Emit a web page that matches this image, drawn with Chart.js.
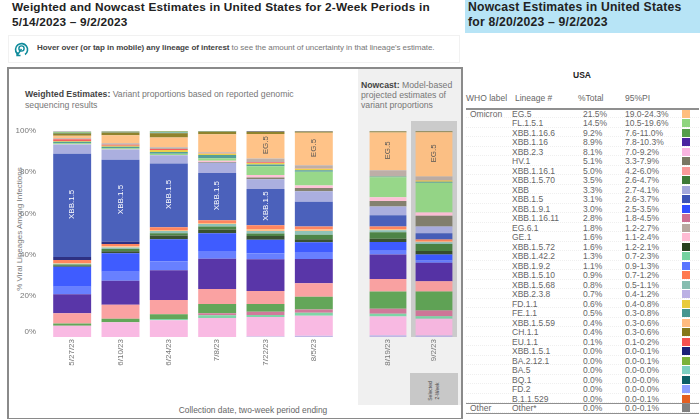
<!DOCTYPE html>
<html>
<head>
<meta charset="utf-8">
<script src="https://cdn.jsdelivr.net/npm/chart.js@4"></script>
<style>
  html, body { margin:0; padding:0; background:#fff; }
  body { width:700px; height:420px; position:relative; overflow:hidden; font-family:"Liberation Sans",Arial,sans-serif; color:#666; }
  .abs { position:absolute; }
  canvas { position:absolute; }
  #title { left:12px; top:0; width:440px; font-weight:bold; font-size:11.8px; line-height:15px; color:#222; letter-spacing:.2px; }
  #hover { left:8px; top:35px; width:452px; height:28px; border:1px solid #f1f1f1; box-sizing:border-box; }
  #hoverText { left:37px; top:43px; font-size:8px; line-height:10px; white-space:nowrap; color:#777; letter-spacing:-.06px; }
  #hoverText b { color:#444; }
  #frame { left:7px; top:67px; width:456px; height:352px; box-sizing:border-box; border:2px solid #8a8a8a; border-bottom-width:1.5px; }
  #panel { left:358px; top:69px; width:103px; height:336px; background:#f0f0f0; }
  #selCol { left:411px; top:121px; width:46px; height:216px; background:#cbcbcb; }
  #selBox { left:410px; top:373px; width:48px; height:32px; background:#c8c8c8; }
  #selText { left:418px; top:384px; width:32px; font-size:5px; line-height:7px; text-align:center; color:#444; transform:rotate(-90deg); }
  #weighted { left:25px; top:89px; width:300px; font-size:8.7px; line-height:10.5px; color:#777; }
  #weighted b, #nowcast b { color:#444; }
  #nowcast { left:361px; top:80px; width:98px; font-size:8.7px; line-height:10px; color:#777; }
  #yTitle { left:-60px; top:224px; width:160px; text-align:center; font-size:8px; line-height:10px; color:#777; transform:rotate(-90deg); white-space:nowrap; }
  #xTitle { left:100px; top:405px; width:306px; text-align:center; font-size:8.4px; line-height:10px; color:#666; }
  #band { left:465px; top:0; width:235px; height:33px; background:#b7e4f6; }
  #bandText { left:468px; top:0; font-weight:bold; font-size:12.2px; line-height:15px; color:#222; letter-spacing:.2px; white-space:nowrap; }
  #usa { left:560px; top:70px; width:44px; text-align:center; font-weight:bold; font-size:8.5px; line-height:10px; color:#222; }
  .col { position:absolute; font-size:8.5px; line-height:10px; white-space:nowrap; color:#666; }
  #headRule, #otherRule, #endRule { position:absolute; left:466px; width:233px; background:#8f8f8f; }
  #headRule { top:108px; height:2px; }
  #otherRule { top:403px; height:1px; }
  #endRule { top:413px; height:1px; }
  .row { position:absolute; left:466px; width:233px; height:9.5px; border-bottom:1px dotted #efefef; box-sizing:border-box; }
  .swatch { position:absolute; left:682px; width:8px; height:8px; }
</style>
</head>
<body>
<div id="title" class="abs">Weighted and Nowcast Estimates in United States for 2-Week Periods in 5/14/2023 – 9/2/2023</div>
<div id="hover" class="abs"></div>
<svg class="abs" style="left:14px;top:42px" width="15" height="15" viewBox="0 0 15 15">
  <path d="M3 11.5A6 6 0 1 1 11 12.5" fill="none" stroke="#0f8b9b" stroke-width="1.6"/>
  <circle cx="7.5" cy="6.5" r="2.6" fill="none" stroke="#0f8b9b" stroke-width="1.4"/>
  <path d="M7.5 7L3 13.5M3 10v3.5h3.5" fill="none" stroke="#0f8b9b" stroke-width="1.4"/>
</svg>
<div id="hoverText" class="abs"><b>Hover over (or tap in mobile) any lineage of interest</b> to see the amount of uncertainty in that lineage's estimate.</div>

<div id="frame" class="abs"></div>
<div id="panel" class="abs"></div>
<div id="selCol" class="abs"></div>
<div id="selBox" class="abs"></div>
<div id="selText" class="abs">Selected<br>2-Week</div>
<div id="weighted" class="abs"><b>Weighted Estimates:</b> Variant proportions based on reported genomic sequencing results</div>
<div id="nowcast" class="abs"><b>Nowcast:</b> Model-based projected estimates of variant proportions</div>
<div id="yTitle" class="abs">% Viral Lineages Among Infections</div>
<div id="xTitle" class="abs">Collection date, two-week period ending</div>

<canvas id="weightedChart" width="326" height="260" style="left:14px;top:125px"></canvas>
<canvas id="nowcastChart" width="92" height="260" style="left:364.5px;top:125px"></canvas>

<div id="band" class="abs"></div>
<div id="bandText" class="abs">Nowcast Estimates in United States<br>for 8/20/2023 – 9/2/2023</div>
<div id="usa" class="abs">USA</div>
<div class="col" style="left:466px;top:93px">WHO label</div>
<div class="col" style="left:515px;top:93px">Lineage #</div>
<div class="col" style="left:578px;top:93px">%Total</div>
<div class="col" style="left:625px;top:93px">95%PI</div>
<div id="headRule"></div>
<div id="rows"></div>
<div id="otherRule"></div>
<div id="endRule"></div>

<script>
const dates = ["5/27/23","6/10/23","6/24/23","7/8/23","7/22/23","8/5/23","8/19/23","9/2/23"];

// shares per two-week period
const xbb238  = [0,0,0,0,.3,.6,.8,.7];
const xbb23   = [5.5,7.1,8.1,9.2,9.4,9.7,9.2,8.1];
const xbb1422 = [0,0,.6,1.3,1,1.5,1.3,1.3];
const xbb11611 = [0,0,0,1,1.6,1.6,2.4,2.8];
const xbb1166 = [1,1.8,2.4,4.5,3.7,6.1,8.4,9.2];
const xbb1161 = [5,6.8,6.9,7.3,6.3,6.6,6,5];
const xbb116  = [9.2,11.6,14.4,14.7,15.5,11.8,12,8.9];
const xbb192  = [3.7,4.4,4.4,3.7,2.9,3.4,1.8,1.1];
const xbb191  = [9.7,8.9,10.7,8.7,6.5,4.7,4.2,3];
const xbb1572 = [.5,1,1.8,1.8,1.8,1.5,1.6,1.6];
const xbb1570 = [.6,1.1,1.1,1.5,1.3,2.1,3.1,3.5];
const xbb1568 = [.3,.8,1,1.1,1.1,1.9,1,.8];
const xbb1559 = [.4,.5,.5,.6,1,.7,.6,.4];
const xbb1510 = [1.5,1.1,1.4,1.3,1.9,1.4,1.3,.9];
const xbb151  = [1.4,1.3,0,0,0,0,0,0];
const xbb15   = [50.2,39.7,30.9,22.9,17.6,12.1,5.4,3.1];
const xbb     = [4.4,4.9,4,5,4.7,5,4.2,3.3];
const hv1     = [0,0,0,.3,.8,1.6,2.7,5.1];
const ge1     = [.2,.2,.2,.6,1.3,1.3,1.8,1.6];
const fl151   = [.5,.4,.5,1.3,4.2,6.6,9.7,14.5];
const fe11    = [.7,.7,.9,1.6,.8,.8,.4,.5];
const fd11    = [.4,.6,1,.6,.8,.7,.1,.6];
const fd2     = [0,0,0,0,0,0,0,0];
const eu11    = [.8,.4,.5,.1,.3,.1,0,.1];
const eg61    = [.5,.7,.8,.6,1.9,1.6,2.9,1.8];
const eg5     = [1.2,3.9,4.8,8.7,11.8,15.7,18.4,21.5];
const ch11    = [1.1,1.4,2,1.2,1,.5,.4,.4];
const bq1     = [.2,.1,.2,.1,0,0,0,0];
const ba5     = [.2,.1,.3,.1,0,0,0,0];
const ba2121  = [.3,.1,.3,.1,0,0,0,0];
const b11529  = [0,0,0,0,0,0,0,0];
const other   = [.2,.3,.3,.1,.5,.4,.3,.2];

// table on the right, in its printed order
const lineages = ["EG.5","FL.1.5.1","XBB.1.16.6","XBB.1.16","XBB.2.3","HV.1","XBB.1.16.1","XBB.1.5.70","XBB","XBB.1.5","XBB.1.9.1","XBB.1.16.11","EG.6.1","GE.1","XBB.1.5.72","XBB.1.42.2","XBB.1.9.2","XBB.1.5.10","XBB.1.5.68","XBB.2.3.8","FD.1.1","FE.1.1","XBB.1.5.59","CH.1.1","EU.1.1","XBB.1.5.1","BA.2.12.1","BA.5","BQ.1","FD.2","B.1.1.529","Other*"];
const pctTotal = ["21.5%","14.5%","9.2%","8.9%","8.1%","5.1%","5.0%","3.5%","3.3%","3.1%","3.0%","2.8%","1.8%","1.6%","1.6%","1.3%","1.1%","0.9%","0.8%","0.7%","0.6%","0.5%","0.4%","0.4%","0.1%","0.0%","0.0%","0.0%","0.0%","0.0%","0.0%","0.0%"];
const piRange = ["19.0-24.3%","10.5-19.6%","7.6-11.0%","7.8-10.3%","7.0-9.2%","3.3-7.9%","4.2-6.0%","2.6-4.7%","2.7-4.1%","2.6-3.7%","2.5-3.5%","1.8-4.5%","1.2-2.7%","1.1-2.4%","1.2-2.1%","0.7-2.3%","0.9-1.3%","0.7-1.2%","0.5-1.1%","0.4-1.2%","0.4-0.8%","0.3-0.8%","0.3-0.6%","0.3-0.6%","0.1-0.2%","0.0-0.1%","0.0-0.1%","0.0-0.0%","0.0-0.0%","0.0-0.0%","0.0-0.1%","0.0-0.1%"];
const swatches = ["#ffbe7d","#8fd57f","#559e4a","#4a24a0","#f9b4e0","#7a7763","#fa9a9a","#3e7a37","#a3a8dc","#3b53b5","#2e4dff","#cd6e92","#b8a8a0","#ffbbd3","#27411f","#74d2a0","#5a75ff","#ff7a50","#86bdb0","#bbb0e4","#e8cb3c","#45958f","#ffbb7f","#85781a","#f55050","#1b1f78","#7bb23a","#7ccfc2","#0b5f66","#8c9eff","#e35f22","#808080"];

// stacking order, bottom bar segment first
const stackNames = ["XBB.2.3.8","XBB.2.3","XBB.1.42.2","XBB.1.16.11","XBB.1.16.6","XBB.1.16.1","XBB.1.16","XBB.1.9.2","XBB.1.9.1","XBB.1.5.72","XBB.1.5.70","XBB.1.5.68","XBB.1.5.59","XBB.1.5.10","XBB.1.5.1","XBB.1.5","XBB","HV.1","GE.1","FL.1.5.1","FE.1.1","FD.1.1","FD.2","EU.1.1","EG.6.1","EG.5","CH.1.1","BQ.1","BA.5","BA.2.12.1","B.1.1.529","Other*"];
const stackValues = [xbb238,xbb23,xbb1422,xbb11611,xbb1166,xbb1161,xbb116,xbb192,xbb191,xbb1572,xbb1570,xbb1568,xbb1559,xbb1510,xbb151,xbb15,xbb,hv1,ge1,fl151,fe11,fd11,fd2,eu11,eg61,eg5,ch11,bq1,ba5,ba2121,b11529,other];

const GREY = "#777";
const FONT = "'Liberation Sans', Arial, sans-serif";

function datasetsFor(from, to){
  return stackNames.map((name, i) => ({
    label: name,
    data: stackValues[i].slice(from, to),
    backgroundColor: swatches[lineages.indexOf(name)] + "ea",
    borderWidth: 0
  }));
}

/* rotated lineage names on the big segments */
const segmentNames = {
  id: "segmentNames",
  afterDatasetsDraw(chart){
    const ctx = chart.ctx;
    chart.data.datasets.forEach((ds, i) => {
      const isBlue = ds.label === "XBB.1.5";
      const isPeach = ds.label === "EG.5";
      if(!isBlue && !isPeach) return;
      chart.getDatasetMeta(i).data.forEach((bar, j) => {
        if(ds.data[j] < (isBlue ? 15 : 10)) return;
        ctx.save();
        ctx.translate(bar.x, (bar.y + bar.base) / 2 - 1);
        ctx.rotate(-Math.PI / 2);
        ctx.font = "8px " + FONT;
        ctx.textAlign = "center";
        ctx.textBaseline = "middle";
        ctx.fillStyle = isBlue ? "#fff" : "#555";
        ctx.fillText(ds.label, 0, 0);
        ctx.restore();
      });
    });
  }
};

function makeChart(id, from, to, showY, barShare, padRight){
  return new Chart(document.getElementById(id), {
    type: "bar",
    data: { labels: dates.slice(from, to), datasets: datasetsFor(from, to) },
    plugins: [segmentNames],
    options: {
      responsive: false,
      animation: false,
      layout: { padding: { top: 6, right: padRight, left: 0, bottom: 0 } },
      plugins: { legend: { display: false }, tooltip: { enabled: false } },
      datasets: { bar: { barPercentage: barShare, categoryPercentage: 1 } },
      scales: {
        x: {
          stacked: true,
          grid: { display: false, drawTicks: false },
          border: { display: false },
          afterFit: s => { s.height = 48; s.paddingLeft = 0; s.paddingRight = 0; },
          ticks: { color: GREY, font: { size: 8, family: FONT }, maxRotation: 90, minRotation: 90, padding: 2, autoSkip: false }
        },
        y: {
          display: showY,
          stacked: true,
          min: 0,
          max: 100,
          grid: { display: false },
          border: { display: false },
          // plot area has to start at the same height in both charts
          afterFit: s => { s.width = showY ? 34 : 0; s.paddingTop = 0; s.paddingBottom = 0; },
          ticks: {
            stepSize: 20,
            color: GREY,
            padding: 4,
            font: { size: 8, family: FONT },
            // the 0% label sits a little above the baseline
            callback: v => v === 0 ? ["0%", ""] : v + "%"
          }
        }
      }
    }
  });
}

makeChart("weightedChart", 0, 6, true, 0.785, 2);
makeChart("nowcastChart", 6, 8, false, 0.8, 0);

/* =========================
   TABLE
=========================*/
document.getElementById("rows").innerHTML = lineages.map((name, i) => {
  const top = 108.6 + i * 9.5;
  const who = i === 0 ? "Omicron" : (name === "Other*" ? "Other" : "");
  return `
    <div class="row" style="top:${top}px"></div>
    <div class="col" style="left:470px;top:${top}px">${who}</div>
    <div class="col" style="left:512px;top:${top}px">${name}</div>
    <div class="col" style="left:583px;top:${top}px">${pctTotal[i]}</div>
    <div class="col" style="left:625px;top:${top}px">${piRange[i]}</div>
    <div class="swatch" style="top:${top + 1}px;background:${swatches[i]}"></div>
  `;
}).join("");
</script>
</body>
</html>
